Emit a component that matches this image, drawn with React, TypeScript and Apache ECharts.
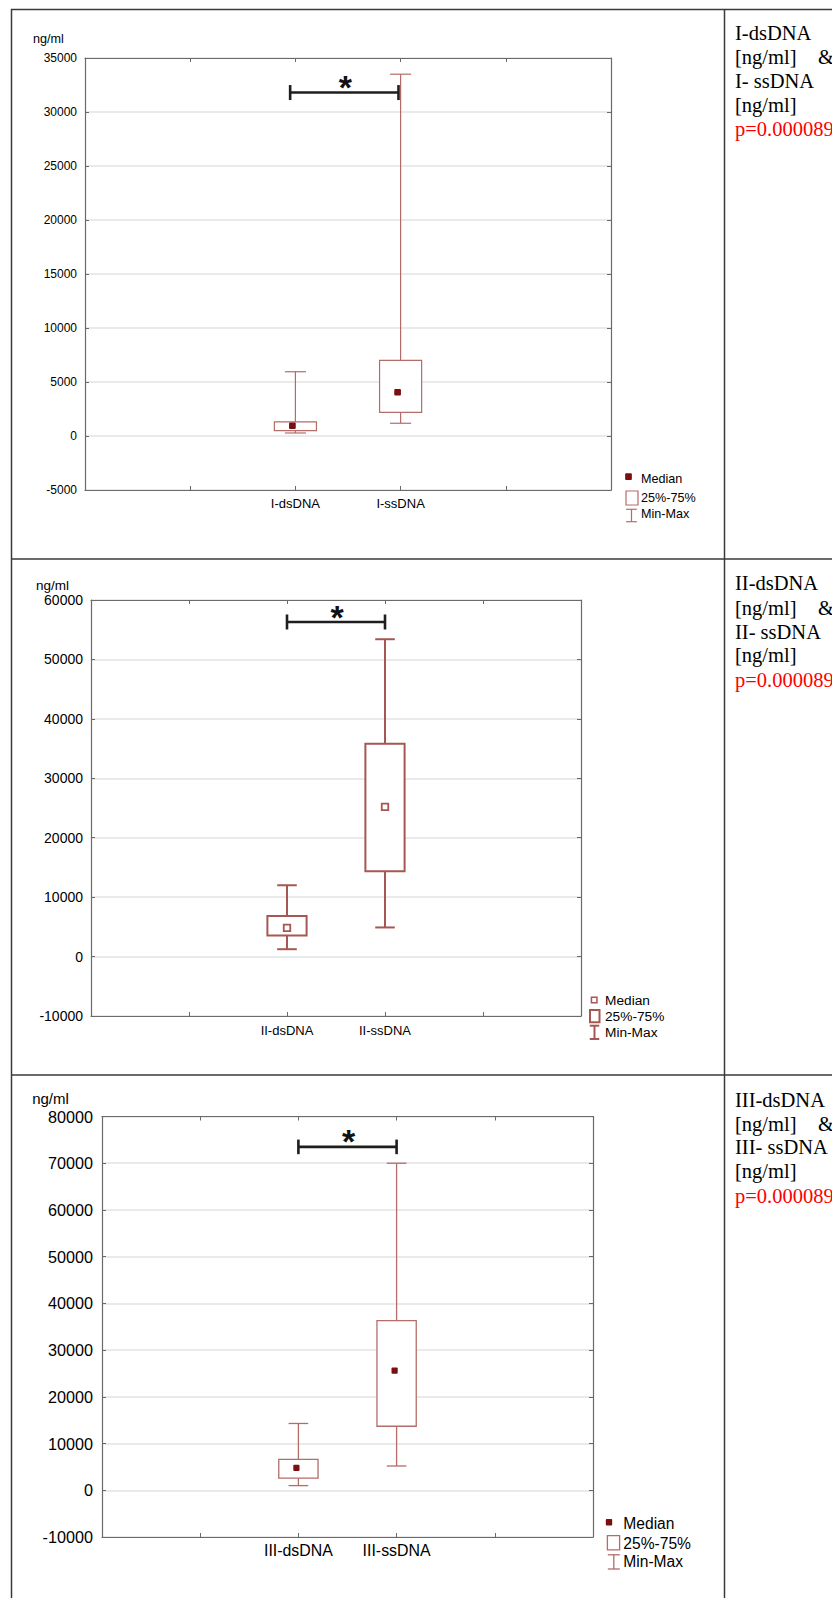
import React, { useEffect, useRef } from "react";
import * as echarts from "echarts";

// ---------- DATA ----------
const categories1 = ["I-dsDNA", "I-ssDNA"];
const categories2 = ["II-dsDNA", "II-ssDNA"];
const categories3 = ["III-dsDNA", "III-ssDNA"];
const categoryPositions = [2, 3];

// Panel I
const min1 = [280, 1180];
const q1_1 = [490, 2190];
const median1 = [950, 4050];
const q3_1 = [1300, 7000];
const max1 = [5950, 33500];

// Panel II
const min2 = [1240, 4900];
const q1_2 = [3550, 14350];
const median2 = [4820, 25200];
const q3_2 = [6840, 35800];
const max2 = [12000, 53400];

// Panel III
const min3 = [1000, 5200];
const q1_3 = [2600, 13700];
const median3 = [4800, 25600];
const q3_3 = [6600, 36300];
const max3 = [14300, 70000];

// y axis ticks [min, max, interval]
const yTicks1 = [-5000, 35000, 5000];
const yTicks2 = [-10000, 60000, 10000];
const yTicks3 = [-10000, 80000, 10000];

// significance brackets [xFrom, xTo, y]
const bracket1 = [1.95, 2.98, 31800];
const bracket2 = [2, 3, 56300];
const bracket3 = [2, 3, 73500];

const unitLabel = "ng/ml";
const legendLabels = ["Median", "25%-75%", "Min-Max"];
const notes1 = ["I-dsDNA", "[ng/ml]", "I- ssDNA", "[ng/ml]"];
const notes2 = ["II-dsDNA", "[ng/ml]", "II- ssDNA", "[ng/ml]"];
const notes3 = ["III-dsDNA", "[ng/ml]", "III- ssDNA", "[ng/ml]"];
const pValue = "p=0.000089";

// ---------- LAYOUT / STYLE ----------
const SANS = "Liberation Sans, Arial, sans-serif";
const SERIF = "Liberation Serif, Times New Roman, serif";

const panels = [
  {
    cats: categories1,
    stats: [min1, q1_1, median1, q3_1, max1],
    yTicks: yTicks1,
    bracket: bracket1,
    notes: notes1,
    grid: { left: 85, top: 58, width: 526, height: 432 },
    yFont: 12, xFont: 13, yMargin: 8, xMargin: 7,
    unit: { x: 48.5, y: 39, size: 12.6 },
    stroke: "#b46c68", lw: 1.2, medHollow: false, medSize: 6.7, medDx: -3,
    capHalf: 7.5, starDy: 9.3,
    legend: { mx: 628.5, my: 476.7, ms: 6.7, tx: 641, ty: [479, 497.7, 514.3], bx: 626, by: 491, bw: 12, bh: 14, wx: 631.5, wy1: 509.3, wy2: 521.7, wc: 10.7, font: 12.6 },
    noteY: [33, 57, 81, 105, 129],
  },
  {
    cats: categories2,
    stats: [min2, q1_2, median2, q3_2, max2],
    yTicks: yTicks2,
    bracket: bracket2,
    notes: notes2,
    grid: { left: 91, top: 600, width: 490, height: 416 },
    yFont: 14, xFont: 13, yMargin: 8, xMargin: 7.5,
    unit: { x: 52.5, y: 585, size: 13.5 },
    stroke: "#a65753", lw: 2, medHollow: true, medSize: 6.5, medDx: 0,
    capHalf: 7.5, starDy: 8.4,
    legend: { mx: 594.2, my: 1000, ms: 5.5, tx: 605, ty: [1000.7, 1016.7, 1032.3], bx: 590, by: 1010, bw: 9.5, bh: 12.3, wx: 594.5, wy1: 1025.7, wy2: 1039, wc: 9.5, font: 13.7 },
    noteY: [583.3, 608.3, 631.7, 655, 680],
  },
  {
    cats: categories3,
    stats: [min3, q1_3, median3, q3_3, max3],
    yTicks: yTicks3,
    bracket: bracket3,
    notes: notes3,
    grid: { left: 102, top: 1116.5, width: 491, height: 420.5 },
    yFont: 16.2, xFont: 15.9, yMargin: 9, xMargin: 5,
    unit: { x: 50.5, y: 1098.6, size: 15 },
    stroke: "#b46c68", lw: 1.3, medHollow: false, medSize: 6.2, medDx: -2,
    capHalf: 7.3, starDy: 9.7,
    legend: { mx: 609, my: 1522.2, ms: 6.4, tx: 623.3, ty: [1523.9, 1543, 1561.6], bx: 607.4, by: 1535.7, bw: 12.2, bh: 14.1, wx: 613.8, wy1: 1554.8, wy2: 1569, wc: 12, font: 15.6 },
    noteY: [1100.3, 1123.9, 1147.4, 1171, 1196],
  },
];

const MEDIAN_FILL = "#7a0f0f";
const FRAME = "#6a6a6a";
const GRIDLINE = "#e3e3e3";

function boxRender(p: any) {
  return (params: any, api: any) => {
    const x = api.value(0);
    const mn = api.value(1), q1 = api.value(2), md = api.value(3), q3 = api.value(4), mx = api.value(5);
    const w = api.size([0.4, 0])[0];
    const cw = api.size([0.2, 0])[0];
    const pMin = api.coord([x, mn]);
    const pQ1 = api.coord([x, q1]);
    const pMd = api.coord([x, md]);
    const pQ3 = api.coord([x, q3]);
    const pMax = api.coord([x, mx]);
    const cx = pMin[0];
    const ls = { stroke: p.stroke, lineWidth: p.lw, fill: "none" };
    const s = p.medSize;
    return {
      type: "group",
      children: [
        { type: "line", shape: { x1: cx, y1: pMax[1], x2: cx, y2: pQ3[1] }, style: ls },
        { type: "line", shape: { x1: cx, y1: pQ1[1], x2: cx, y2: pMin[1] }, style: ls },
        { type: "line", shape: { x1: cx - cw / 2, y1: pMax[1], x2: cx + cw / 2, y2: pMax[1] }, style: ls },
        { type: "line", shape: { x1: cx - cw / 2, y1: pMin[1], x2: cx + cw / 2, y2: pMin[1] }, style: ls },
        { type: "rect", shape: { x: cx - w / 2, y: pQ3[1], width: w, height: pQ1[1] - pQ3[1] }, style: { stroke: p.stroke, lineWidth: p.lw, fill: "#ffffff" } },
        p.medHollow
          ? { type: "rect", shape: { x: cx + p.medDx - s / 2, y: pMd[1] - s / 2, width: s, height: s }, style: { stroke: p.stroke, lineWidth: 1.8, fill: "#ffffff" } }
          : { type: "rect", shape: { x: cx + p.medDx - s / 2, y: pMd[1] - s / 2, width: s, height: s, r: 1 }, style: { fill: MEDIAN_FILL } },
      ],
    };
  };
}

function bracketRender(p: any) {
  return (params: any, api: any) => {
    const a = api.coord([api.value(0), api.value(2)]);
    const b = api.coord([api.value(1), api.value(2)]);
    const ls = { stroke: "#1e1e1e", lineWidth: 2.6 };
    const h = p.capHalf;
    return {
      type: "group",
      children: [
        { type: "line", shape: { x1: a[0], y1: a[1], x2: b[0], y2: b[1] }, style: ls },
        { type: "line", shape: { x1: a[0], y1: a[1] - h, x2: a[0], y2: a[1] + h }, style: ls },
        { type: "line", shape: { x1: b[0], y1: b[1] - h, x2: b[0], y2: b[1] + h }, style: ls },
        {
          type: "text",
          x: (a[0] + b[0]) / 2 + 1,
          y: a[1] - p.starDy + 3.5,
          style: { text: "*", fontSize: 34, fontWeight: "bold", fontFamily: SANS, fill: "#111", textAlign: "center", textVerticalAlign: "middle" },
        },
      ],
    };
  };
}

function buildOption() {
  const grid: any[] = [];
  const xAxis: any[] = [];
  const yAxis: any[] = [];
  const series: any[] = [];
  const graphic: any[] = [];

  panels.forEach((p, i) => {
    grid.push({ ...p.grid, show: false, containLabel: false });
    const [ymin, ymax, yint] = p.yTicks;
    const tick = { show: true, inside: true, length: 4, lineStyle: { color: FRAME, width: 1 } };
    const axLine = { show: true, onZero: false, lineStyle: { color: FRAME, width: 1.2 } };
    xAxis.push({
      type: "value", gridIndex: i, min: 0, max: 5, interval: 1, position: "bottom",
      axisLine: axLine, axisTick: tick, splitLine: { show: false },
      axisLabel: {
        show: true, margin: p.xMargin, fontSize: p.xFont, fontFamily: SANS, color: "#000",
        formatter: (v: number) => {
          const k = categoryPositions.indexOf(v);
          return k >= 0 ? p.cats[k] : "";
        },
      },
    });
    xAxis.push({
      type: "value", gridIndex: i, min: 0, max: 5, interval: 1, position: "top",
      axisLine: axLine, axisTick: tick, splitLine: { show: false }, axisLabel: { show: false },
    });
    yAxis.push({
      type: "value", gridIndex: i, min: ymin, max: ymax, interval: yint, position: "left",
      axisLine: axLine, axisTick: tick,
      splitLine: { show: true, lineStyle: { color: GRIDLINE, width: 1.5 } },
      axisLabel: {
        show: true, margin: p.yMargin, fontSize: p.yFont, fontFamily: SANS, color: "#000",
        formatter: (v: number) => String(v),
      },
    });
    yAxis.push({
      type: "value", gridIndex: i, min: ymin, max: ymax, interval: yint, position: "right",
      axisLine: axLine, axisTick: tick, splitLine: { show: false }, axisLabel: { show: false },
    });

    const [mn, q1, md, q3, mx] = p.stats;
    const rows = categoryPositions.map((x, k) => [x, mn[k], q1[k], md[k], q3[k], mx[k]]);
    series.push({
      type: "custom", xAxisIndex: i * 2, yAxisIndex: i * 2,
      renderItem: boxRender(p), data: rows,
      encode: { x: 0, y: [1, 2, 3, 4, 5] }, silent: true, z: 5,
    });
    series.push({
      type: "custom", xAxisIndex: i * 2, yAxisIndex: i * 2,
      renderItem: bracketRender(p), data: [p.bracket],
      encode: { x: [0, 1], y: 2 }, silent: true, z: 6, clip: false,
    });

    // unit label
    graphic.push({
      type: "text", x: p.unit.x, y: p.unit.y,
      style: { text: unitLabel, fontSize: p.unit.size, fontFamily: SANS, fill: "#000", textAlign: "center", textVerticalAlign: "middle" },
    });

    // legend
    const L = p.legend;
    if (p.medHollow) {
      graphic.push({ type: "rect", shape: { x: L.mx - L.ms / 2, y: L.my - L.ms / 2, width: L.ms, height: L.ms }, style: { stroke: p.stroke, lineWidth: 1.5, fill: "#fff" } });
    } else {
      graphic.push({ type: "rect", shape: { x: L.mx - L.ms / 2, y: L.my - L.ms / 2, width: L.ms, height: L.ms, r: 1 }, style: { fill: MEDIAN_FILL } });
    }
    graphic.push({ type: "rect", shape: { x: L.bx, y: L.by, width: L.bw, height: L.bh }, style: { stroke: p.stroke, lineWidth: p.lw, fill: "#fff" } });
    const wls = { stroke: p.stroke, lineWidth: p.lw };
    graphic.push({ type: "line", shape: { x1: L.wx, y1: L.wy1, x2: L.wx, y2: L.wy2 }, style: wls });
    graphic.push({ type: "line", shape: { x1: L.wx - L.wc / 2, y1: L.wy1, x2: L.wx + L.wc / 2, y2: L.wy1 }, style: wls });
    graphic.push({ type: "line", shape: { x1: L.wx - L.wc / 2, y1: L.wy2, x2: L.wx + L.wc / 2, y2: L.wy2 }, style: wls });
    legendLabels.forEach((t, k) => {
      graphic.push({
        type: "text", x: L.tx, y: L.ty[k],
        style: { text: t, fontSize: L.font, fontFamily: SANS, fill: "#000", textAlign: "left", textVerticalAlign: "middle" },
      });
    });

    // right column notes
    p.notes.forEach((t, k) => {
      graphic.push({
        type: "text", x: 735, y: p.noteY[k],
        style: { text: t, fontSize: 20.5, fontFamily: SERIF, fill: "#000", textAlign: "left", textVerticalAlign: "middle" },
      });
    });
    graphic.push({
      type: "text", x: 818, y: p.noteY[1],
      style: { text: "&", fontSize: 20.5, fontFamily: SERIF, fill: "#000", textAlign: "left", textVerticalAlign: "middle" },
    });
    graphic.push({
      type: "text", x: 735, y: p.noteY[4],
      style: { text: pValue, fontSize: 20.5, fontFamily: SERIF, fill: "#ff0000", textAlign: "left", textVerticalAlign: "middle" },
    });
  });

  // table borders
  const tb = { stroke: "#3a3a3a", lineWidth: 1.5 };
  graphic.push({ type: "line", shape: { x1: 11, y1: 9.5, x2: 832, y2: 9.5 }, style: tb });
  graphic.push({ type: "line", shape: { x1: 11.5, y1: 9, x2: 11.5, y2: 1598 }, style: tb });
  graphic.push({ type: "line", shape: { x1: 724.5, y1: 9, x2: 724.5, y2: 1598 }, style: tb });
  graphic.push({ type: "line", shape: { x1: 11, y1: 559, x2: 832, y2: 559 }, style: tb });
  graphic.push({ type: "line", shape: { x1: 11, y1: 1075, x2: 832, y2: 1075 }, style: tb });

  return {
    animation: false,
    backgroundColor: "#ffffff",
    grid, xAxis, yAxis, series, graphic,
  };
}

export default function App() {
  const ref = useRef<HTMLDivElement>(null);
  useEffect(() => {
    if (!ref.current) return;
    const chart = echarts.init(ref.current, undefined, { renderer: "svg" });
    chart.setOption(buildOption() as any);
    return () => chart.dispose();
  }, []);
  return <div ref={ref} style={{ position: "absolute", left: 0, top: 0, width: 832, height: 1598 }} />;
}
